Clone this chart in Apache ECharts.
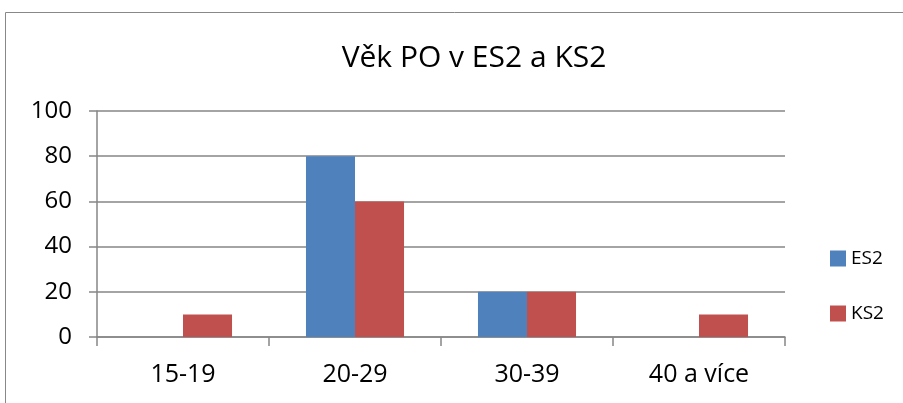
<!DOCTYPE html>
<html><head><meta charset="utf-8">
<script src="https://cdn.jsdelivr.net/npm/echarts@6/dist/echarts.min.js"></script>
<style>html,body{margin:0;padding:0;background:#fff}#c{width:903px;height:403px}</style>
</head><body><div id="c"></div>
<script>
const categories = ['15-19', '20-29', '30-39', '40 a více'];
const es2 = [0, 80, 20, 0];
const ks2 = [10, 60, 20, 10];
const yTicks = { min: 0, max: 100, interval: 20 };
const font = 'Open Sans';
const chart = echarts.init(document.getElementById('c'), null, { renderer: 'canvas' });
chart.setOption({
  animation: false,
  backgroundColor: '#fff',
  title: { text: 'Věk PO v ES2 a KS2', left: 469, top: 38, textAlign: 'center',
    textStyle: { fontFamily: font, fontSize: 30, fontWeight: 'normal', color: '#000' } },
  graphic: [{ type: 'rect', shape: { x: 5.5, y: 12.5, width: 910, height: 400 },
    style: { fill: 'none', stroke: '#888', lineWidth: 1 }, silent: true }],
  legend: { orient: 'vertical', left: 825, top: 244, itemWidth: 16, itemHeight: 16, itemGap: 36,
    icon: 'rect',
    textStyle: { fontFamily: font, fontSize: 19, lineHeight: 16, color: '#000' }, data: ['ES2', 'KS2'] },
  grid: { left: 97, right: 118, top: 111, bottom: 66 },
  xAxis: { type: 'category', data: categories,
    axisLine: { lineStyle: { color: '#868686', width: 1.5 } },
    axisTick: { show: true, length: 9, lineStyle: { color: '#868686', width: 1.5 } },
    axisLabel: { fontFamily: font, fontSize: 25, color: '#000', margin: 25 } },
  yAxis: { type: 'value', min: yTicks.min, max: yTicks.max, interval: yTicks.interval,
    axisLine: { show: true, lineStyle: { color: '#868686', width: 1.5 } },
    axisTick: { show: true, length: 8, lineStyle: { color: '#868686', width: 1.5 } },
    splitLine: { lineStyle: { color: '#868686', width: 1.5 } },
    axisLabel: { fontFamily: font, fontSize: 24, color: '#000', margin: 25 } },
  series: [
    { name: 'ES2', type: 'bar', data: es2, barGap: '0%', barCategoryGap: '43%', itemStyle: { color: '#4F81BD' } },
    { name: 'KS2', type: 'bar', data: ks2, barGap: '0%', barCategoryGap: '43%', itemStyle: { color: '#C0504D' } }
  ]
});
</script></body></html>
